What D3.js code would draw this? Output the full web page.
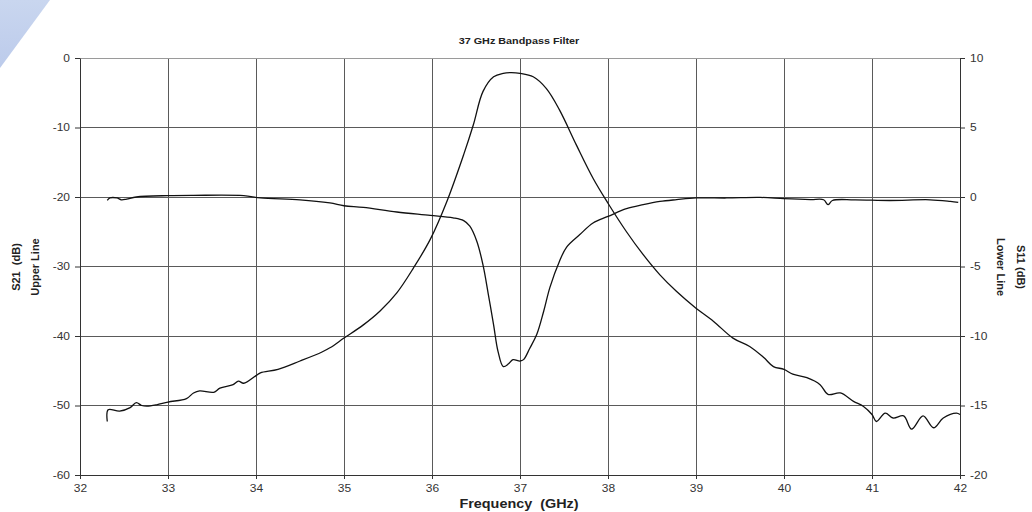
<!DOCTYPE html>
<html>
<head>
<meta charset="utf-8">
<script src="https://cdn.jsdelivr.net/npm/d3@7"></script>
<style>
  body { margin: 0; background: #fff; }
  text { font-family: "Liberation Sans", Arial, sans-serif; }
</style>
</head>
<body>
<svg id="chart" width="1032" height="512"></svg>
<script>
// S21 trace (left axis), frequency in GHz / level in dB.
const s21Freq = [32.31, 32.32, 32.45, 32.57, 32.64, 32.7, 32.76, 32.87, 33.0, 33.21, 33.29, 33.36, 33.52, 33.59,
  33.74, 33.8, 33.86, 34.0, 34.05, 34.25, 34.5, 34.75, 34.84, 35.0, 35.22, 35.41, 35.6, 35.79, 35.98, 36.17,
  36.36, 36.47, 36.58, 36.7, 36.81, 36.9, 37.0, 37.15, 37.3, 37.45, 37.64, 37.83, 38.0, 38.21, 38.4, 38.59,
  38.78, 39.0, 39.2, 39.42, 39.61, 39.77, 39.88, 40.0, 40.1, 40.26, 40.41, 40.5, 40.64, 40.79, 40.9, 41.0,
  41.05, 41.15, 41.24, 41.36, 41.45, 41.58, 41.7, 41.81, 41.96, 42.0];
const s21Db = [-52.3, -50.6, -50.8, -50.3, -49.6, -50.0, -50.1, -49.9, -49.5, -49.0, -48.2, -47.9, -48.1, -47.5,
  -47.0, -46.5, -46.8, -45.7, -45.3, -44.8, -43.6, -42.3, -41.7, -40.3, -38.4, -36.4, -33.8, -30.2, -26.1, -20.6,
  -13.9, -9.6, -4.8, -2.7, -2.2, -2.1, -2.2, -2.7, -4.4, -7.5, -12.5, -17.3, -20.9, -25.0, -28.3, -31.2,
  -33.6, -36.0, -37.9, -40.3, -41.5, -43.1, -44.4, -44.8, -45.5, -46.0, -47.0, -48.4, -48.2, -49.4, -50.1, -51.3,
  -52.3, -51.1, -51.8, -51.5, -53.4, -51.5, -53.2, -51.8, -51.1, -51.3];

// S11 trace (right axis).
const s11Freq = [32.31, 32.34, 32.42, 32.47, 32.53, 32.64, 33.0, 33.29, 33.86, 34.05, 34.5, 34.84, 35.0, 35.22,
  35.6, 35.98, 36.24, 36.36, 36.43, 36.51, 36.58, 36.64, 36.7, 36.75, 36.81, 36.87, 36.92, 37.0, 37.04, 37.11,
  37.19, 37.27, 37.34, 37.45, 37.53, 37.68, 37.83, 38.0, 38.21, 38.4, 38.59, 38.78, 39.0, 39.35, 39.73, 40.0,
  40.3, 40.45, 40.5, 40.55, 40.8, 41.2, 41.66, 41.89, 41.98];
const s11Db = [-0.24, -0.07, -0.07, -0.2, -0.15, 0.0, 0.1, 0.12, 0.1, -0.07, -0.2, -0.43, -0.63, -0.75,
  -1.08, -1.32, -1.5, -1.7, -2.1, -3.2, -4.9, -7.0, -9.2, -11.1, -12.2, -12.0, -11.7, -11.8, -11.7, -10.9,
  -9.9, -8.2, -6.5, -4.6, -3.6, -2.7, -1.87, -1.4, -0.84, -0.55, -0.32, -0.19, -0.07, -0.07, -0.03, -0.12,
  -0.19, -0.2, -0.55, -0.25, -0.2, -0.25, -0.2, -0.32, -0.39];

const freqTicks = [32, 33, 34, 35, 36, 37, 38, 39, 40, 41, 42];
const leftTicks = [0, -10, -20, -30, -40, -50, -60];
const rightTicks = [10, 5, 0, -5, -10, -15, -20];

const svg = d3.select("#chart");
const stretch = 1.2; // the source picture is a little wider than tall in its lettering

const x = d3.scaleLinear().domain([32, 42]).range([80, 960]);
const yLeft = d3.scaleLinear().domain([-60, 0]).range([475, 58]);
const yRight = d3.scaleLinear().domain([-20, 10]).range([475, 58]);

// Decorative corner wedge.
const grad = svg.append("defs").append("linearGradient")
  .attr("id", "wedge").attr("x1", 0).attr("y1", 0).attr("x2", 0).attr("y2", 1);
grad.append("stop").attr("offset", "0%").attr("stop-color", "#c9d6ef");
grad.append("stop").attr("offset", "100%").attr("stop-color", "#bccbeb");
svg.append("polygon").attr("points", "0,0 50,0 0,68").attr("fill", "url(#wedge)");

// Grid.
const grid = svg.append("g").attr("stroke", "#5a5a5a").attr("stroke-width", 1).attr("shape-rendering", "crispEdges");
grid.selectAll("line.v").data(freqTicks).join("line").attr("class", "v")
  .attr("x1", (d) => x(d)).attr("x2", (d) => x(d)).attr("y1", yLeft(0)).attr("y2", yLeft(-60));
grid.selectAll("line.h").data(leftTicks).join("line").attr("class", "h")
  .attr("x1", x(32)).attr("x2", x(42)).attr("y1", (d) => yLeft(d)).attr("y2", (d) => yLeft(d))
  .attr("stroke", (d) => (d === 0 ? "#9a9a9a" : null));

// Axes, with plain hyphen minus signs.
const plain = (d) => String(d);
function styleAxis(g) {
  g.select(".domain").attr("stroke", "#333");
  g.selectAll(".tick line").attr("stroke", "#333");
  g.selectAll(".tick text").attr("fill", "#333").style("font-size", "10px");
}
svg.append("g").attr("transform", `translate(0,${yLeft(-60)})`)
  .call(d3.axisBottom(x).tickValues(freqTicks).tickFormat(plain).tickSize(4).tickSizeOuter(0).tickPadding(6))
  .call(styleAxis);
svg.append("g").attr("transform", `translate(${x(32)},0)`)
  .call(d3.axisLeft(yLeft).tickValues(leftTicks).tickFormat(plain).tickSize(5).tickSizeOuter(0).tickPadding(5))
  .call(styleAxis);
svg.append("g").attr("transform", `translate(${x(42)},0)`)
  .call(d3.axisRight(yRight).tickValues(rightTicks).tickFormat(plain).tickSize(5).tickSizeOuter(0).tickPadding(5))
  .call(styleAxis);
svg.selectAll(".tick text").attr("transform", `scale(${stretch},1)`)
  .attr("x", function () { return +d3.select(this).attr("x") / stretch || 0; });

// Traces.
const line = d3.line().curve(d3.curveCatmullRom.alpha(0.5));
svg.append("path")
  .attr("d", line(s21Freq.map((f, i) => [x(f), yLeft(s21Db[i])])))
  .attr("fill", "none").attr("stroke", "#111").attr("stroke-width", 1.3);
svg.append("path")
  .attr("d", line(s11Freq.map((f, i) => [x(f), yRight(s11Db[i])])))
  .attr("fill", "none").attr("stroke", "#111").attr("stroke-width", 1.3);

// Titles.
svg.append("text").attr("transform", `translate(519,44) scale(${stretch},1)`)
  .attr("text-anchor", "middle").style("font-size", "9px").style("font-weight", "bold").attr("fill", "#222")
  .text("37 GHz Bandpass Filter");
svg.append("text").attr("transform", `translate(519,508) scale(${stretch},1)`)
  .attr("text-anchor", "middle").style("font-size", "12px").style("font-weight", "bold").attr("fill", "#222")
  .attr("xml:space", "preserve").text("Frequency  (GHz)");

const leftLabel = svg.append("text").attr("transform", "translate(0,267) rotate(-90)")
  .attr("text-anchor", "middle").style("font-size", "11px").style("font-weight", "bold").attr("fill", "#222");
leftLabel.append("tspan").attr("x", 0).attr("y", 20).attr("xml:space", "preserve").text("S21  (dB)");
leftLabel.append("tspan").attr("x", 0).attr("y", 39).text("Upper Line");

const rightLabel = svg.append("text").attr("transform", "translate(1032,267) rotate(90)")
  .attr("text-anchor", "middle").style("font-size", "11px").style("font-weight", "bold").attr("fill", "#222");
rightLabel.append("tspan").attr("x", 0).attr("y", 15).text("S11 (dB)");
rightLabel.append("tspan").attr("x", 0).attr("y", 35).text("Lower Line");
</script>
</body>
</html>
